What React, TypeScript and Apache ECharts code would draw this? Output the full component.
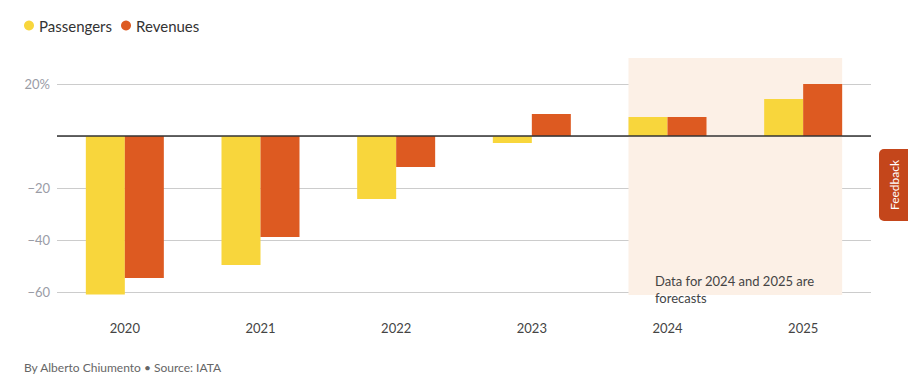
import React, { useEffect, useRef } from "react";
import * as echarts from "echarts";

const categories = ["2020", "2021", "2022", "2023", "2024", "2025"];
const passengers = [-61, -49.6, -24.2, -2.7, 7.3, 14.2];
const revenues = [-54.6, -38.8, -11.9, 8.5, 7.3, 20];
const forecastCategories = ["2024", "2025"];
const forecastShadeRange = [30, -61.2];
const yTicks = { min: -60, max: 20, interval: 20 };

const FONT = "Lato, 'Open Sans', sans-serif";
const BAR_W = 39;

export default function App() {
  const ref = useRef<HTMLDivElement>(null);
  useEffect(() => {
    if (!ref.current) return;
    const chart = echarts.init(ref.current, null, { renderer: "svg" });
    const shadeData = [
      [
        categories.indexOf(forecastCategories[0]),
        categories.indexOf(forecastCategories[1]),
        forecastShadeRange[0],
        forecastShadeRange[1],
      ],
    ];
    chart.setOption({
      animation: false,
      textStyle: { fontFamily: FONT },
      legend: {
        data: ["Passengers", "Revenues"],
        left: 19,
        top: 13,
        icon: "circle",
        itemWidth: 10,
        itemHeight: 10,
        itemGap: 9,
        textStyle: { fontSize: 15, color: "#333", fontFamily: FONT },
      },
      grid: { left: 57, right: 37, top: 84, bottom: 100, containLabel: false },
      xAxis: {
        type: "category",
        data: categories,
        axisLine: { show: false, onZero: false },
        axisTick: { show: false },
        axisLabel: { color: "#444", fontSize: 13, margin: 29, fontFamily: FONT },
        splitLine: { show: false },
      },
      yAxis: {
        type: "value",
        min: yTicks.min,
        max: yTicks.max,
        interval: yTicks.interval,
        axisLine: { show: false },
        axisTick: { show: false },
        axisLabel: {
          color: "#9a9ca6",
          fontSize: 13,
          margin: 7,
          fontFamily: FONT,
          formatter: (v: number) =>
            v === 0 ? "" : v > 0 ? `${v}%` : `\u2212${Math.abs(v)}`,
        },
        splitLine: { lineStyle: { color: "#cccccc", width: 1 } },
      },
      series: [
        {
          type: "custom",
          name: "forecast",
          z: 0,
          silent: true,
          clip: false,
          encode: { x: [0, 1], y: [2, 3] },
          data: shadeData,
          renderItem: (params: any, api: any) => {
            const a = api.coord([api.value(0), api.value(2)]);
            const b = api.coord([api.value(1), api.value(3)]);
            return {
              type: "rect",
              shape: {
                x: a[0] - BAR_W,
                y: a[1],
                width: b[0] - a[0] + 2 * BAR_W,
                height: b[1] - a[1],
              },
              style: { fill: "#fcf0e6" },
            };
          },
        },
        {
          type: "bar",
          name: "Passengers",
          data: passengers,
          barWidth: BAR_W,
          barGap: "0%",
          clip: false,
          z: 2,
          itemStyle: { color: "#f8d63c" },
          markLine: {
            silent: true,
            symbol: "none",
            label: { show: false },
            lineStyle: { color: "#333", width: 1.5, type: "solid" },
            data: [{ yAxis: 0 }],
          },
        },
        {
          type: "bar",
          name: "Revenues",
          data: revenues,
          barWidth: BAR_W,
          barGap: "0%",
          clip: false,
          z: 2,
          itemStyle: { color: "#dd5a21" },
        },
      ],
      graphic: [
        {
          type: "text",
          left: 655,
          top: 272,
          z: 10,
          style: {
            text: "Data for 2024 and 2025 are\nforecasts",
            fill: "#444",
            font: `13px ${FONT}`,
            lineHeight: 17,
          },
        },
        {
          type: "text",
          left: 24,
          top: 361,
          style: {
            text: "By Alberto Chiumento \u2022 Source: IATA",
            fill: "#666",
            font: `12px ${FONT}`,
          },
        },
        {
          type: "rect",
          shape: { x: 879, y: 149, width: 40, height: 72, r: [5, 0, 0, 5] },
          style: { fill: "#c4461b" },
          z: 20,
        },
        {
          type: "text",
          x: 894,
          y: 185,
          rotation: Math.PI / 2,
          z: 21,
          style: {
            text: "Feedback",
            fill: "#fff",
            font: `12px ${FONT}`,
            align: "center",
            verticalAlign: "middle",
          },
        },
      ],
    });
    return () => chart.dispose();
  }, []);
  return (
    <div
      ref={ref}
      style={{ position: "fixed", left: 0, top: 0, width: 908, height: 392, background: "#fff" }}
    />
  );
}
